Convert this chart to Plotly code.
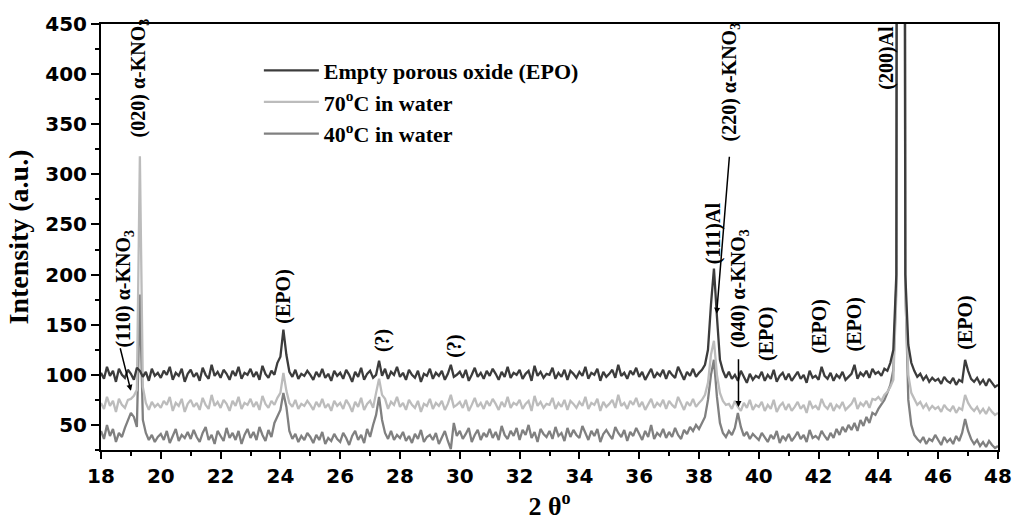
import numpy as np
import plotly.graph_objects as go

# ---- data (2-theta scan 18..48 deg, step 0.1) ----
two_theta_start = 18.0
two_theta_step = 0.1

epo = [
    102, 96, 108, 99, 104, 93, 106, 100, 97, 105,      # 18
    101, 95, 107, 104, 98, 103, 94, 106, 99, 102,      # 19
    97, 104, 100, 108, 95, 102, 99, 106, 93, 101,      # 20
    105, 98, 102, 94, 107, 100, 96, 110, 99, 103,      # 21
    97, 105, 101, 95, 104, 99, 108, 96, 102, 100,      # 22
    106, 98, 103, 95, 109, 101, 97, 104, 100, 112,     # 23
    118, 145, 120, 103, 98, 105, 96, 101, 99, 104,     # 24
    100, 95, 103, 98, 106, 97, 101, 94, 104, 99,       # 25
    102, 96, 105, 100, 93, 103, 98, 107, 95, 101,      # 26
    104, 97, 100, 114, 99, 106, 96, 103, 100, 108,     # 27
    98, 102, 95, 105, 100, 97, 104, 93, 101, 99,       # 28
    106, 96, 102, 99, 104, 95, 101, 110, 98, 100,      # 29
    103, 97, 105, 94, 100, 107, 98, 102, 96, 104,      # 30
    99, 106, 101, 95, 103, 98, 108, 97, 102, 100,      # 31
    105, 96, 101, 104, 94, 109, 99, 103, 97, 101,      # 32
    100, 107, 96, 102, 98, 105, 95, 104, 101, 97,      # 33
    103, 99, 108, 96, 102, 100, 106, 94, 103, 98,      # 34
    101, 105, 97, 110, 99, 102, 96, 104, 100, 107,     # 35
    98, 103, 95, 101, 106, 97, 102, 99, 105, 96,       # 36
    104, 100, 97, 108, 101, 95, 103, 99, 106, 98,      # 37
    102, 105, 110, 125, 170, 206, 158, 115, 104, 97,   # 38
    103, 96, 100, 94, 104, 98, 92, 101, 95, 99,        # 39
    97, 103, 94, 100, 96, 105, 93, 99, 102, 95,        # 40
    101, 94, 98, 103, 96, 100, 92, 104, 97, 99,        # 41
    95, 108, 99, 96, 102, 94, 100, 97, 103, 95,        # 42
    98, 101, 110, 96, 102, 99, 104, 97, 106, 101,      # 43
    103, 99, 106, 104, 112, 125, 200, 2500, 2500, 200, # 44
    130, 112, 104, 98, 101, 95, 99, 93, 97, 94,        # 45
    96, 91, 98, 94, 92, 97, 90, 95, 93, 115,           # 46
    104, 96, 93, 97, 91, 95, 89, 96, 92, 88,           # 47
    90,
]

water70 = [
    72, 66, 78, 69, 74, 63, 76, 70, 67, 75,            # 18
    76, 79, 85, 318, 88, 72, 65, 73, 68, 71,           # 19
    67, 74, 70, 78, 64, 72, 69, 76, 63, 71,            # 20
    75, 68, 72, 65, 77, 70, 66, 80, 69, 73,            # 21
    67, 75, 71, 64, 74, 69, 78, 66, 72, 70,            # 22
    76, 68, 73, 65, 79, 71, 67, 74, 70, 77,            # 23
    82, 102, 84, 72, 68, 75, 66, 71, 69, 74,           # 24
    70, 65, 73, 68, 76, 67, 71, 64, 74, 69,            # 25
    72, 66, 75, 70, 63, 73, 68, 77, 65, 71,            # 26
    74, 67, 82, 96, 80, 76, 66, 73, 70, 78,            # 27
    68, 72, 65, 75, 70, 67, 74, 63, 71, 69,            # 28
    76, 66, 72, 69, 74, 65, 71, 80, 68, 70,            # 29
    73, 67, 75, 64, 70, 77, 68, 72, 66, 74,            # 30
    69, 76, 71, 65, 73, 68, 78, 67, 72, 70,            # 31
    75, 66, 71, 74, 64, 79, 69, 73, 67, 71,            # 32
    70, 77, 66, 72, 68, 75, 65, 74, 71, 67,            # 33
    73, 69, 78, 66, 72, 70, 76, 64, 73, 68,            # 34
    71, 75, 67, 80, 69, 72, 66, 74, 70, 77,            # 35
    68, 73, 65, 71, 76, 67, 72, 69, 75, 66,            # 36
    74, 70, 67, 78, 71, 65, 73, 69, 76, 68,            # 37
    72, 75, 80, 92, 120, 134, 100, 82, 74, 70,         # 38
    71, 66, 74, 68, 64, 72, 67, 75, 65, 70,            # 39
    68, 73, 64, 70, 66, 75, 63, 69, 72, 65,            # 40
    71, 64, 68, 73, 66, 70, 62, 74, 67, 69,            # 41
    65, 76, 69, 66, 72, 64, 70, 67, 73, 65,            # 42
    68, 71, 77, 66, 72, 69, 74, 67, 76, 75,            # 43
    78, 74, 80, 83, 88, 95, 180, 2500, 2500, 180,      # 44
    100, 82, 76, 70, 73, 67, 71, 65, 69, 66,           # 45
    68, 63, 70, 66, 64, 69, 62, 67, 65, 80,            # 46
    72, 67, 64, 68, 62, 66, 61, 67, 63, 60,            # 47
    62,
]

water40 = [
    44, 36, 50, 39, 46, 33, 42, 38, 47, 55,            # 18
    62, 58, 48, 180, 55, 42, 35, 40, 33, 38,           # 19
    41, 35, 44, 32, 39, 46, 34, 40, 37, 43,            # 20
    36, 45, 38, 33, 42, 48, 35, 40, 31, 44,            # 21
    39, 34, 47, 37, 42, 35, 44, 31, 40, 46,            # 22
    37, 43, 35, 48, 40, 34, 45, 38, 52, 58,            # 23
    65, 82, 68, 44, 36, 41, 33, 39, 35, 42,            # 24
    38, 32, 40, 35, 43, 31, 37, 34, 41, 36,            # 25
    33, 42, 37, 30, 39, 44, 35, 40, 32, 46,            # 26
    38, 50, 60, 78, 55, 42, 36, 44, 35, 40,            # 27
    37, 43, 34, 39, 32, 41, 36, 45, 33, 38,            # 28
    40, 35, 42, 31, 38, 44, 34, 26, 52, 39,            # 29
    44, 36, 41, 47, 33, 40, 45, 35, 42, 38,            # 30
    46, 37, 43, 35, 49, 40, 36, 44, 39, 47,            # 31
    35, 45, 40, 50, 37, 43, 33, 46, 41, 38,            # 32
    44, 36, 48, 39, 42, 34, 47, 38, 45, 40,            # 33
    37, 49, 42, 35, 44, 39, 46, 33, 41, 45,            # 34
    40, 36, 48, 42, 38, 45, 34, 43, 39, 47,            # 35
    41, 35, 44, 38, 50, 36, 42, 39, 46, 37,            # 36
    43, 38, 47, 40, 36, 45, 41, 48, 44, 50,            # 37
    46, 52, 58, 75, 100, 115, 78, 52, 42, 38,          # 38
    44, 40, 47, 62, 48, 39, 43, 36, 41, 38,            # 39
    35, 42, 37, 33, 40, 36, 44, 32, 39, 35,            # 40
    41, 34, 38, 43, 36, 40, 33, 45, 37, 39,            # 41
    36, 44, 39, 35, 42, 37, 46, 40, 48, 43,            # 42
    50, 45, 52, 44, 55, 49, 58, 52, 62, 60,            # 43
    66, 70, 75, 82, 90, 105, 190, 2500, 2500, 190,     # 44
    75, 50, 40, 36, 33, 38, 31, 36, 34, 40,            # 45
    35, 30, 38, 33, 36, 31, 39, 34, 42, 56,            # 46
    44, 36, 31, 35, 29, 33, 28, 34, 30, 27,            # 47
    29,
]

series_names = ["Empty porous oxide (EPO)", "70<sup>o</sup>C in water", "40<sup>o</sup>C in water"]

x_ticks = [18, 20, 22, 24, 26, 28, 30, 32, 34, 36, 38, 40, 42, 44, 46, 48]
y_ticks = [50, 100, 150, 200, 250, 300, 350, 400, 450]

# peak labels: (text, 2theta, intensity at label centre)
peak_labels = [
    ("(110) α-KNO<sub>3</sub>", 18.80, 186),
    ("(020) α-KNO<sub>3</sub>", 19.28, 396),
    ("(EPO)", 24.12, 178),
    ("(?)", 27.41, 134),
    ("(?)", 29.84, 128),
    ("(111)Al", 38.49, 241),
    ("(220) α-KNO<sub>3</sub>", 39.05, 392),
    ("(040) α-KNO<sub>3</sub>", 39.35, 186),
    ("(EPO)", 40.25, 141),
    ("(EPO)", 42.04, 148),
    ("(EPO)", 43.21, 150),
    ("(200)Al", 44.24, 416),
    ("(EPO)", 46.93, 152),
]
# pointer lines: (x0, y0, x1, y1) in data units
pointers = [
    (18.63, 128, 19.0, 84),
    (39.02, 319, 38.59, 161),
    (39.32, 117, 39.32, 68),
]

n = len(epo)
assert n == len(water70) == len(water40) == 301
two_theta = np.round(two_theta_start + two_theta_step * np.arange(n), 2)

fig = go.Figure()
styles = [
    dict(color="#3c3c3c", width=2.3),
    dict(color="#bcbcbc", width=2.3),
    dict(color="#808080", width=2.3),
]
data_list = [epo, water70, water40]
# draw 40C first, EPO last (on top); legend order EPO, 70, 40
for idx in [2, 1, 0]:
    fig.add_trace(go.Scatter(
        x=two_theta, y=data_list[idx], mode="lines",
        name=series_names[idx], line=styles[idx],
        legendrank=idx + 1,
    ))

serif = "Liberation Serif, Times New Roman, serif"
sans = "DejaVu Sans, Arial, sans-serif"

for text, xv, yv in peak_labels:
    fig.add_annotation(
        x=xv, y=yv, text=text, showarrow=False, textangle=-90,
        xanchor="center", yanchor="middle",
        font=dict(family=serif, size=20, color="black", weight="bold"),
    )

for x0, y0, x1, y1 in pointers:
    fig.add_annotation(
        x=x1, y=y1, ax=x0, ay=y0, axref="x", ayref="y", xref="x", yref="y",
        text="", showarrow=True, arrowhead=2, arrowsize=0.8, arrowwidth=1.5,
        arrowcolor="black",
    )

fig.update_layout(
    width=1024, height=526,
    margin=dict(l=101, r=21, t=15, b=73),
    paper_bgcolor="white", plot_bgcolor="white",
    showlegend=True,
    legend=dict(
        x=0.176, y=0.94, xanchor="left", yanchor="top",
        bgcolor="rgba(0,0,0,0)", borderwidth=0,
        font=dict(family=serif, size=22, color="black", weight="bold"),
        itemwidth=55, tracegroupgap=0,
    ),
)

fig.update_xaxes(
    range=[18, 48], tickvals=x_ticks, ticktext=[str(v) for v in x_ticks],
    showgrid=False, zeroline=False,
    showline=True, linecolor="black", linewidth=2, mirror=True,
    ticks="outside", ticklen=7, tickwidth=2, tickcolor="black",
    minor=dict(dtick=1, ticks="outside", ticklen=4, tickwidth=1.5, tickcolor="black"),
    tickfont=dict(family=sans, size=20, color="black", weight="bold"),
    title=dict(text="2 θ<sup>o</sup>", standoff=8,
               font=dict(family=serif, size=26, color="black", weight="bold")),
)
fig.update_yaxes(
    range=[25, 450], tickvals=y_ticks, ticktext=[str(v) for v in y_ticks],
    showgrid=False, zeroline=False,
    showline=True, linecolor="black", linewidth=2, mirror=True,
    ticks="outside", ticklen=8, tickwidth=2, tickcolor="black",
    minor=dict(dtick=25, ticks="outside", ticklen=4, tickwidth=1.5, tickcolor="black"),
    tickfont=dict(family=sans, size=20, color="black", weight="bold"),
    title=dict(text="Intensity (a.u.)", standoff=8,
               font=dict(family=serif, size=28, color="black", weight="bold")),
)

fig.write_html("out.html")
